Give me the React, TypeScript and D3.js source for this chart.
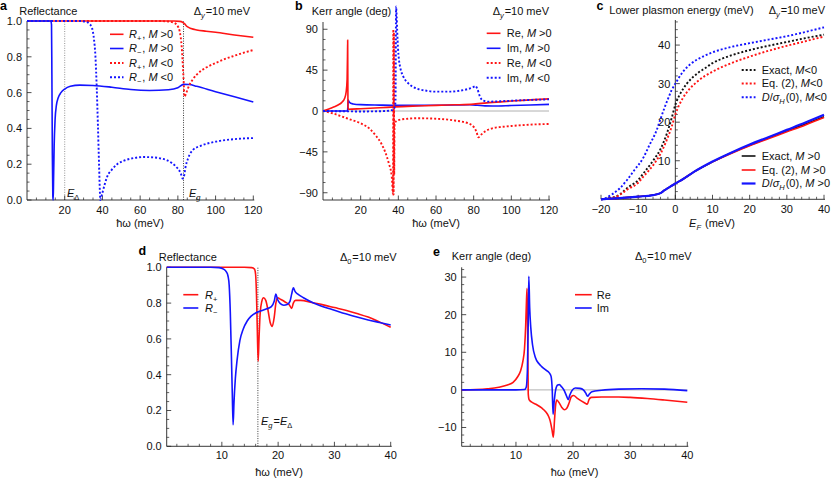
import React from 'react';
import * as d3 from 'd3';

type Pt = [number, number];

// ---------------- Panel a: Reflectance vs ħω (Δy = 10 meV) ----------------
const aRpPos: Pt[] = [[0,1],[78,1],[81,0.998],[82.5,0.993],[83.5,0.985],[85,0.968],[87,0.958],[90,0.95],[95,0.943],[100,0.937],[110,0.922],[120,0.909]];
const aRmPos: Pt[] = [[0,1],[12.6,1],[13.0,0.98],[13.2,0.7],[13.45,0.25],[13.7,0.02],[13.9,0],[14.1,0.12],[14.4,0.3],[14.9,0.45],[15.6,0.53],[16.5,0.57],[18,0.6],[20,0.62],[23,0.635],[28,0.642],[35,0.64],[45,0.63],[55,0.617],[65,0.612],[75,0.616],[80,0.627],[83,0.646],[86,0.645],[90,0.635],[100,0.605],[110,0.577],[120,0.547]];
const aRpNeg: Pt[] = [[0,1],[70,1],[75,0.997],[78,0.99],[80,0.97],[81,0.94],[82,0.86],[83,0.68],[83.5,0.578],[84.5,0.6],[86,0.64],[88,0.675],[90,0.7],[95,0.74],[100,0.765],[105,0.788],[110,0.806],[115,0.823],[120,0.838]];
const aRmNeg: Pt[] = [[0,1],[28,1],[31,0.996],[33,0.985],[34.5,0.96],[35.5,0.9],[36.3,0.8],[37,0.62],[37.6,0.42],[38.2,0.2],[38.6,0.06],[38.9,0],[39.3,0.015],[40,0.04],[41,0.08],[42.5,0.13],[45,0.17],[47.8,0.2],[52,0.222],[57,0.235],[62,0.24],[67,0.238],[71,0.232],[74.3,0.222],[77,0.205],[79.6,0.18],[81.5,0.15],[82.6,0.12],[83.2,0.13],[84,0.18],[85.5,0.235],[88,0.28],[92,0.302],[100,0.326],[110,0.34],[120,0.346]];

// ---------------- Panel b: Kerr angle (deg) ----------------
const bRePos: Pt[] = [[0,0],[2,1.5],[4,3],[6,4.6],[8,6.6],[10,9.5],[11.5,14],[12.3,21],[12.8,35],[13.0,60],[13.1,78],[13.25,5],[13.5,2],[20,2.5],[30,3.5],[38,4.5],[50,5.5],[60,6.2],[70,6.8],[80,7.6],[90,9.5],[100,11],[110,12.2],[120,13.3]];
const bImPos: Pt[] = [[0,0],[13,0],[13.2,5],[13.4,12],[13.7,10.5],[14.5,8.8],[16,7.8],[20,7],[30,6.5],[40,6.2],[50,6.2],[60,6.4],[70,6.6],[78,6.8],[82,6.3],[86,5.6],[90,5.5],[100,6],[110,6.6],[120,7.3]];
const bReNeg: Pt[] = [[0,0],[5,-2.5],[10,-6],[14,-9],[20,-13.5],[25,-20],[28,-27],[31,-36],[33,-45],[35,-58],[36.5,-72],[37.2,-92],[37.35,90],[37.5,-92],[37.65,86],[37.8,-70],[38.0,-16],[38.5,-12],[40,-10],[45,-8.5],[50,-8],[60,-8.5],[70,-10.5],[77,-13.5],[80,-17.5],[81.5,-23],[82.5,-29],[84,-26],[86,-22.5],[90,-19],[95,-17.5],[100,-16.5],[110,-15],[120,-14.3]];
const bImNeg: Pt[] = [[0,0],[10,-0.3],[20,-0.5],[30,-0.3],[35,0.3],[37,1.2],[38,4],[38.5,10],[38.8,115],[39.1,105],[39.4,88],[39.8,70],[40.3,57],[41,48],[42.6,38],[45.3,30.5],[50.6,24.2],[55,22.3],[59.4,21.3],[68,21.3],[73,22.5],[77,24.2],[79.5,26],[81,27.5],[82,24],[83.3,16],[85,11.5],[88,10.3],[95,10.8],[100,11.3],[110,12.2],[120,12.8]];

// ---------------- Panel c: Lower plasmon energy (meV) vs E_F ----------------
const cExactNeg: Pt[] = [[-20,0],[-18,0.2],[-15,1.2],[-13,2.9],[-10,5],[-8.6,6.7],[-6,10],[-4,13],[-2.3,17],[-1,21],[0,24.5],[1,26.8],[2,28.5],[4,31],[6,32.7],[8,34],[10,35.3],[15,37.3],[20,38.7],[25,39.8],[30,40.8],[35,41.8],[40,42.7]];
const cEq2Neg: Pt[] = [[-20,0],[-18,0.2],[-15,1.1],[-13,2.5],[-10,4.3],[-8.6,5.9],[-6,8.8],[-4,11.8],[-2.3,15.4],[-1,18.8],[0,22],[1,24.4],[2,26.2],[4,28.8],[6,30.6],[8,32],[10,33.1],[15,35.3],[20,37],[25,38.5],[30,39.8],[35,41],[40,42.2]];
const cDNeg: Pt[] = [[-20,0],[-19,0.25],[-17,1.3],[-15,2.8],[-13,5],[-11,7.6],[-8.6,10.8],[-7,14],[-5,18],[-4,20.8],[-3,23.5],[-2,26],[-1,28.3],[0,30],[2,33],[4,35],[6,36.3],[8,37.3],[10,38.1],[15,39.5],[20,40.5],[25,41.4],[30,42.3],[35,43.4],[40,44.6]];
const cExactPos: Pt[] = [[-20,0],[-15,0.3],[-10,0.7],[-6,1.1],[-4,1.6],[-3,2.3],[-2,2.9],[-1,3.5],[0,4.1],[2,5.2],[5,7.1],[10,9.7],[15,12],[20,14],[25,15.9],[30,17.7],[35,19.5],[40,21.4]];
const cEq2Pos: Pt[] = [[-20,0],[-15,0.3],[-10,0.7],[-6,1.1],[-4,1.6],[-3,2.3],[-2,2.9],[-1,3.5],[0,4.1],[2,5.2],[5,7.1],[10,9.7],[15,11.9],[20,13.9],[25,15.7],[30,17.5],[35,19.3],[40,21.2]];
const cDPos: Pt[] = [[-20,0],[-15,0.3],[-10,0.7],[-6,1.1],[-4,1.6],[-3,2.3],[-2,2.9],[-1,3.5],[0,4.1],[2,5.2],[5,7.1],[10,9.8],[15,12.1],[20,14.2],[25,16.1],[30,18],[35,19.9],[40,21.9]];

// ---------------- Panel d: Reflectance (Δ0 = 10 meV) ----------------
const dRp: Pt[] = [[0.2,1],[14,1],[15.3,0.998],[15.8,0.99],[16.0,0.96],[16.15,0.85],[16.3,0.65],[16.45,0.475],[16.6,0.6],[16.8,0.74],[17.1,0.81],[17.4,0.83],[17.8,0.815],[18.2,0.76],[18.6,0.69],[18.95,0.67],[19.3,0.72],[19.6,0.8],[19.9,0.83],[20.5,0.82],[21.3,0.805],[22,0.79],[22.4,0.77],[22.7,0.8],[23.1,0.815],[24,0.815],[26,0.803],[28,0.79],[30,0.775],[32,0.76],[34,0.742],[36,0.722],[38,0.695],[40,0.665]];
const dRm: Pt[] = [[0.2,1],[8,1],[9.5,0.998],[10.3,0.99],[10.8,0.975],[11.1,0.95],[11.3,0.9],[11.5,0.75],[11.7,0.5],[11.85,0.3],[12.0,0.12],[12.15,0.24],[12.4,0.38],[12.7,0.48],[13.2,0.59],[13.8,0.655],[14.5,0.7],[15.2,0.727],[16,0.745],[17,0.757],[18,0.768],[18.8,0.78],[19.3,0.81],[19.6,0.85],[19.9,0.82],[20.4,0.797],[21,0.788],[21.6,0.792],[22.1,0.81],[22.4,0.85],[22.7,0.885],[23.0,0.865],[23.5,0.85],[24.5,0.83],[26,0.805],[28,0.78],[30,0.76],[32,0.74],[34,0.722],[36,0.706],[38,0.692],[40,0.678]];

// ---------------- Panel e: Kerr angle (deg) (Δ0 = 10 meV) ----------------
const eRe: Pt[] = [[0.5,0],[3,0.1],[5,0.3],[7,0.7],[8.5,1.3],[9.5,2],[10.3,3.5],[10.8,5],[11.2,7.5],[11.5,11],[11.7,17],[11.85,24],[11.95,27],[12.05,15],[12.15,-1],[12.3,-2.6],[12.7,-3.2],[13.5,-3.8],[14.5,-4.8],[15.2,-5.8],[15.7,-7],[16.0,-8.3],[16.3,-10.5],[16.55,-12.6],[16.75,-8],[16.95,-4],[17.15,-2.7],[17.5,-3.3],[18.0,-4.6],[18.5,-5.3],[18.9,-4.9],[19.3,-3.5],[19.7,-1.8],[20.1,-1.5],[20.7,-2.2],[21.5,-3],[22.2,-3.6],[22.5,-3.8],[22.8,-2.5],[23.2,-2],[25,-1.9],[28,-1.9],[30,-2.0],[33,-2.3],[36,-2.7],[40,-3.3]];
const eIm: Pt[] = [[0.5,0],[10,0],[11.5,0.1],[11.8,0.7],[12.0,5],[12.15,18],[12.25,30.2],[12.4,22],[12.6,16.5],[12.9,12],[13.4,8.6],[14,7],[14.5,6.2],[15.2,5.3],[15.8,4.6],[16.15,3.6],[16.35,0],[16.5,-6.5],[16.7,-3],[16.95,0],[17.3,1.3],[17.6,1.4],[18,0.8],[18.5,-0.3],[18.9,-1.8],[19.15,-2.6],[19.4,-1.5],[19.8,-0.2],[20.4,0.5],[21.2,0.4],[21.8,0],[22.2,-0.8],[22.55,-1.7],[22.85,-1.1],[23.3,-0.5],[25,-0.1],[28,0.2],[32,0.3],[36,0.2],[40,-0.2]];

// ---------------- tick labels ----------------
const aXTicks = [20, 40, 60, 80, 100, 120];
const aYTicks = [0, 0.2, 0.4, 0.6, 0.8, 1.0];
const bXTicks = [20, 40, 60, 80, 100, 120];
const bYTicks = [-90, -45, 0, 45, 90];
const cXTicks = [-20, -10, 0, 10, 20, 30, 40];
const cYTicks = [10, 20, 30, 40];
const dXTicks = [10, 20, 30, 40];
const dYTicks = [0, 0.2, 0.4, 0.6, 0.8, 1.0];
const eXTicks = [10, 20, 30, 40];
const eYTicks = [-10, 0, 10, 20, 30];

const FONT = "'Liberation Sans', Arial, Helvetica, sans-serif";
const RED = '#ff1414';
const BLUE = '#1414ff';
const FS = 11;

const minus = (v: number) => (v < 0 ? '\u2212' + String(Math.abs(v)) : String(v));
const fix1 = (v: number) => v.toFixed(1);

function minors(start: number, end: number, step: number, majors: number[]) {
  const out: number[] = [];
  for (let v = start; v <= end + 1e-9; v += step) {
    if (!majors.some((m) => Math.abs(m - v) < 1e-6)) out.push(v);
  }
  return out;
}

interface Series { data: Pt[]; color: string; dotted?: boolean; width?: number }
interface VLine { x: number; color: string }

interface PanelProps {
  xr: [number, number];
  yr: [number, number];
  xd: [number, number];
  yd: [number, number];
  xTicks: number[];
  xMinor: number[];
  yTicks: number[];
  yMinor: number[];
  xFmt: (v: number) => string;
  yFmt: (v: number) => string;
  yAxisAt?: number;
  zero?: boolean;
  series: Series[];
  vlines?: VLine[];
  labelOffset: number;
}

function Panel(p: PanelProps) {
  const x = d3.scaleLinear().domain(p.xd).range(p.xr);
  const y = d3.scaleLinear().domain(p.yd).range(p.yr);
  const bottom = p.yr[0];
  const top = p.yr[1];
  const ax = x(p.yAxisAt ?? p.xd[0]);
  const line = d3.line<Pt>().x((d) => x(d[0])).y((d) => y(d[1])).curve(d3.curveMonotoneX);
  const axisCol = '#222';
  return (
    <g>
      {p.zero && (
        <line x1={p.xr[0]} x2={p.xr[1]} y1={y(0)} y2={y(0)} stroke="#b0b0b0" strokeWidth={1} />
      )}
      {p.vlines?.map((v, i) => (
        <line key={'v' + i} x1={x(v.x)} x2={x(v.x)} y1={y(p.yd[0])} y2={y(1)} stroke={v.color} strokeWidth={0.9} strokeDasharray="1,1.4" />
      ))}
      <line x1={p.xr[0]} x2={p.xr[1] + 1} y1={bottom} y2={bottom} stroke={axisCol} strokeWidth={0.9} />
      <line x1={ax} x2={ax} y1={bottom} y2={top} stroke={axisCol} strokeWidth={0.9} />
      {p.xTicks.map((t) => (
        <g key={'xt' + t}>
          <line x1={x(t)} x2={x(t)} y1={bottom} y2={bottom - 4.5} stroke={axisCol} strokeWidth={0.8} />
          <text x={x(t)} y={bottom + p.labelOffset} textAnchor="middle" fontSize={FS} fontFamily={FONT} fill="#111">{p.xFmt(t)}</text>
        </g>
      ))}
      {p.xMinor.map((t) => (
        <line key={'xm' + t} x1={x(t)} x2={x(t)} y1={bottom} y2={bottom - 2.5} stroke={axisCol} strokeWidth={0.7} />
      ))}
      {p.yTicks.map((t) => (
        <g key={'yt' + t}>
          <line x1={ax} x2={ax + 4.5} y1={y(t)} y2={y(t)} stroke={axisCol} strokeWidth={0.8} />
          <text x={ax - 5} y={y(t)} dy="0.36em" textAnchor="end" fontSize={FS} fontFamily={FONT} fill="#111">{p.yFmt(t)}</text>
        </g>
      ))}
      {p.yMinor.map((t) => (
        <line key={'ym' + t} x1={ax} x2={ax + 2.5} y1={y(t)} y2={y(t)} stroke={axisCol} strokeWidth={0.7} />
      ))}
      {p.series.map((s, i) => (
        <path key={'s' + i} d={line(s.data) || ''} fill="none" stroke={s.color} strokeWidth={s.width ?? (s.dotted ? 1.9 : 1.6)} strokeDasharray={s.dotted ? '2,2' : undefined} strokeLinejoin="round" />
      ))}
    </g>
  );
}

interface LegRow { y: number; color: string; dotted?: boolean; width?: number; label: React.ReactNode }
function Legend({ x1, x2, tx, rows }: { x1: number; x2: number; tx: number; rows: LegRow[] }) {
  return (
    <g>
      {rows.map((r, i) => (
        <g key={i}>
          <line x1={x1} x2={x2} y1={r.y} y2={r.y} stroke={r.color} strokeWidth={r.width ?? (r.dotted ? 1.9 : 1.6)} strokeDasharray={r.dotted ? '2,2' : undefined} />
          <text x={tx} y={r.y} dy="0.36em" fontSize={FS} fontFamily={FONT} fill="#111">{r.label}</text>
        </g>
      ))}
    </g>
  );
}

const I = ({ children }: { children: React.ReactNode }) => <tspan fontStyle="italic">{children}</tspan>;
const sub = (s: string, italic = false) => [
  <tspan key="a" dy={3} fontSize={7.5} fontStyle={italic ? 'italic' : undefined}>{s}</tspan>,
  <tspan key="b" dy={-3}>{'\u200A'}</tspan>,
];

const Rlab = (sign: string, m: string) => (
  <>
    <I>R</I>{sub(sign)}, <I>M</I>{' ' + m}
  </>
);
const DLab = (m: string) => (
  <>
    <I>D</I>/<I>σ</I>{sub('H', true)}(0), <I>M</I>{m}
  </>
);

function Title({ x, y, children, anchor }: { x: number; y: number; children: React.ReactNode; anchor?: string }) {
  return (
    <text x={x} y={y} fontSize={FS} fontFamily={FONT} fill="#111" textAnchor={anchor as any}>{children}</text>
  );
}
function Letter({ x, y, c }: { x: number; y: number; c: string }) {
  return <text x={x} y={y} fontSize={12.5} fontWeight="bold" fontFamily={FONT} fill="#000">{c}</text>;
}
const Delta = (s: string) => (
  <>
    Δ{sub(s, s === 'y')}=10 meV
  </>
);
const HW = '\u0127\u03C9 (meV)';

export default function App() {
  return (
    <svg width={831} height={479} style={{ display: 'block', position: 'absolute', left: 0, top: 0, background: '#fff' }}>
      {/* ---------- a ---------- */}
      <Letter x={0} y={10} c="a" />
      <Title x={19.3} y={15}>Reflectance</Title>
      <Title x={250} y={15} anchor="end">{Delta('y')}</Title>
      <Panel
        xr={[27, 253.3]} yr={[200, 21]} xd={[0, 120]} yd={[0, 1]}
        xTicks={aXTicks} xMinor={minors(5, 120, 5, aXTicks)}
        yTicks={aYTicks} yMinor={minors(0, 1, 0.05, aYTicks)}
        xFmt={String} yFmt={fix1} labelOffset={13.5}
        vlines={[{ x: 20, color: '#888' }, { x: 83, color: '#222' }]}
        series={[
          { data: aRpPos, color: RED },
          { data: aRmPos, color: BLUE },
          { data: aRpNeg, color: RED, dotted: true },
          { data: aRmNeg, color: BLUE, dotted: true },
        ]}
      />
      <Title x={67} y={197}><I>E</I>{sub('Δ')}</Title>
      <Title x={189} y={197}><I>E</I>{sub('g', true)}</Title>
      <Legend x1={110} x2={123.5} tx={129} rows={[
        { y: 34.3, color: RED, label: Rlab('+', '>0') },
        { y: 48.5, color: BLUE, label: Rlab('\u2212', '>0') },
        { y: 63, color: RED, dotted: true, label: Rlab('+', '<0') },
        { y: 77.3, color: BLUE, dotted: true, label: Rlab('\u2212', '<0') },
      ]} />
      <Title x={140} y={227} anchor="middle">{HW}</Title>

      {/* ---------- b ---------- */}
      <Letter x={295} y={10} c="b" />
      <Title x={311.7} y={15}>Kerr angle (deg)</Title>
      <Title x={549} y={15} anchor="end">{Delta('y')}</Title>
      <Panel
        xr={[323, 549]} yr={[200, 22]} xd={[0, 120]} yd={[-98, 98]}
        xTicks={bXTicks} xMinor={minors(5, 120, 5, bXTicks)}
        yTicks={bYTicks} yMinor={minors(-90, 90, 11.25, bYTicks)}
        xFmt={String} yFmt={minus} labelOffset={13.5} zero
        series={[
          { data: bImPos, color: BLUE },
          { data: bRePos, color: RED },
          { data: bReNeg, color: RED, dotted: true },
          { data: bImNeg, color: BLUE, dotted: true },
        ]}
      />
      <Legend x1={486.7} x2={500.5} tx={506.7} rows={[
        { y: 33.3, color: RED, label: <>Re, <I>M</I> {'>0'}</> },
        { y: 48.3, color: BLUE, label: <>Im, <I>M</I> {'>0'}</> },
        { y: 63, color: RED, dotted: true, label: <>Re, <I>M</I> {'<0'}</> },
        { y: 77.7, color: BLUE, dotted: true, label: <>Im, <I>M</I> {'<0'}</> },
      ]} />
      <Title x={436} y={227} anchor="middle">{HW}</Title>

      {/* ---------- c ---------- */}
      <Letter x={596.5} y={10} c="c" />
      <Title x={609.3} y={14}>Lower plasmon energy (meV)</Title>
      <Title x={825} y={14} anchor="end">{Delta('y')}</Title>
      <Panel
        xr={[601, 824]} yr={[199.3, 20]} xd={[-20, 40]} yd={[0, 46.5]}
        xTicks={cXTicks} xMinor={minors(-20, 40, 2, cXTicks)}
        yTicks={cYTicks} yMinor={minors(2, 46, 2, cYTicks)}
        xFmt={minus} yFmt={String} yAxisAt={0} labelOffset={13.5}
        series={[
          { data: cExactNeg, color: '#111', dotted: true },
          { data: cEq2Neg, color: RED, dotted: true },
          { data: cDNeg, color: BLUE, dotted: true },
          { data: cExactPos, color: '#111', width: 1.6 },
          { data: cEq2Pos, color: RED, width: 1.6 },
          { data: cDPos, color: BLUE, width: 2.2 },
        ]}
      />
      <Legend x1={741.7} x2={755.5} tx={761.7} rows={[
        { y: 70, color: '#111', dotted: true, label: <>Exact, <I>M</I>{'<0'}</> },
        { y: 83.5, color: RED, dotted: true, label: <>Eq. (2), <I>M</I>{'<0'}</> },
        { y: 97.3, color: BLUE, dotted: true, label: DLab('<0') },
        { y: 156, color: '#111', label: <>Exact, <I>M</I>{' >0'}</> },
        { y: 170, color: RED, label: <>Eq. (2), <I>M</I>{' >0'}</> },
        { y: 183.5, color: BLUE, width: 2.2, label: DLab(' >0') },
      ]} />
      <Title x={712} y={227} anchor="middle"><I>E</I>{sub('F', true)} (meV)</Title>

      {/* ---------- d ---------- */}
      <Letter x={138.5} y={255} c="d" />
      <Title x={158.8} y={260.5}>Reflectance</Title>
      <Title x={396.7} y={260.5} anchor="end">{Delta('0')}</Title>
      <Panel
        xr={[166.7, 390.7]} yr={[446.3, 267.3]} xd={[0.2, 40]} yd={[0, 1]}
        xTicks={dXTicks} xMinor={minors(2, 40, 2, dXTicks)}
        yTicks={dYTicks} yMinor={minors(0, 1, 0.05, dYTicks)}
        xFmt={String} yFmt={fix1} labelOffset={12.8}
        vlines={[{ x: 16.4, color: '#222' }]}
        series={[
          { data: dRp, color: RED },
          { data: dRm, color: BLUE },
        ]}
      />
      <Title x={261} y={424.5}><I>E</I>{sub('g', true)}=<I>E</I>{sub('Δ')}</Title>
      <Legend x1={183.3} x2={198.3} tx={205} rows={[
        { y: 294.7, color: RED, label: <><I>R</I>{sub('+')}</> },
        { y: 308, color: BLUE, label: <><I>R</I>{sub('\u2212')}</> },
      ]} />
      <Title x={279} y={475.5} anchor="middle">{HW}</Title>

      {/* ---------- e ---------- */}
      <Letter x={433} y={255.5} c="e" />
      <Title x={451.7} y={260}>Kerr angle (deg)</Title>
      <Title x={691.7} y={260} anchor="end">{Delta('0')}</Title>
      <Panel
        xr={[461.7, 687.3]} yr={[446.3, 267.3]} xd={[0.5, 40]} yd={[-15, 32.6]}
        xTicks={eXTicks} xMinor={minors(2, 40, 2, eXTicks)}
        yTicks={eYTicks} yMinor={minors(-14, 32, 2, eYTicks)}
        xFmt={String} yFmt={minus} labelOffset={12.8} zero
        series={[
          { data: eRe, color: RED },
          { data: eIm, color: BLUE },
        ]}
      />
      <Legend x1={575} x2={591.7} tx={596.7} rows={[
        { y: 294.7, color: RED, label: 'Re' },
        { y: 308, color: BLUE, label: 'Im' },
      ]} />
      <Title x={574.5} y={475.5} anchor="middle">{HW}</Title>
    </svg>
  );
}
